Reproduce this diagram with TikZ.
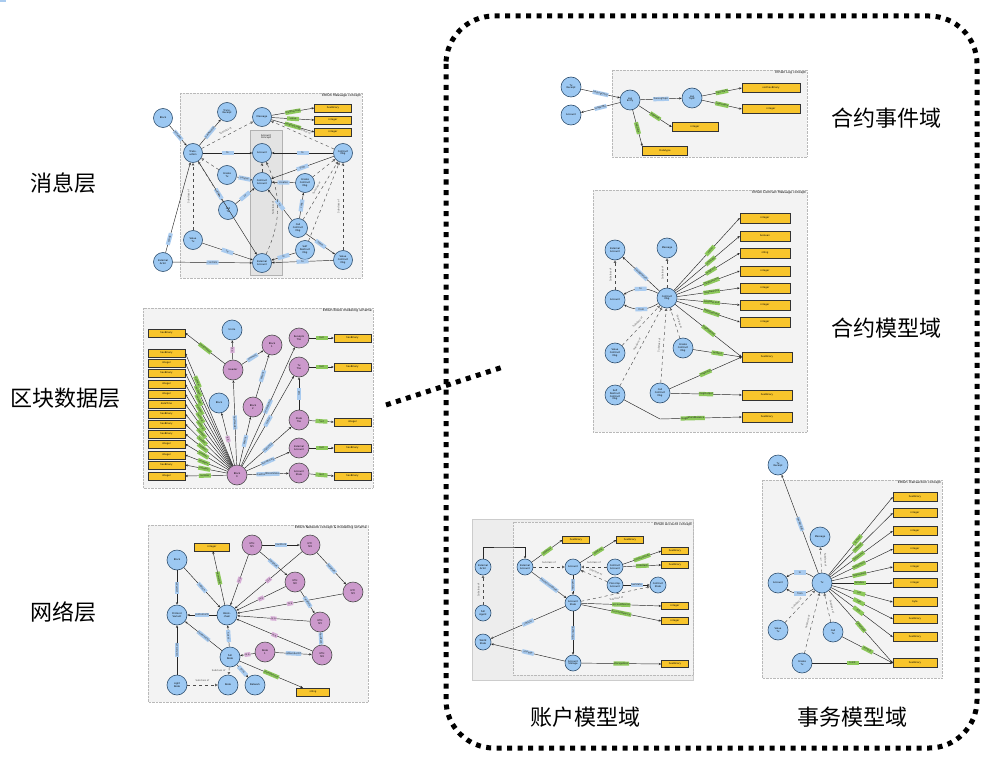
\documentclass[tikz,border=0pt]{standalone}
\usepackage{fontspec}
\newfontfamily\cjk{Noto Sans CJK SC}
\newfontfamily\tinyf{DejaVu Sans}
\usetikzlibrary{arrows.meta}
\definecolor{nblue}{HTML}{9CC8F2}
\definecolor{nblueb}{HTML}{2F4F6F}
\definecolor{npurp}{HTML}{CC99CC}
\definecolor{nyel}{HTML}{F8C52C}
\definecolor{lgreen}{HTML}{8CC85A}
\definecolor{lblue}{HTML}{A9CBEF}
\definecolor{frm}{HTML}{F3F3F3}
\begin{document}
\begin{tikzpicture}[x=1pt,y=-1pt,
  tx/.style={font=\tinyf\fontsize{2.4}{2.7}\selectfont, align=center},
  cn/.style={circle, draw=nblueb, line width=0.6pt, fill=nblue, minimum size=20pt, inner sep=0pt, tx},
  sn/.style={cn, minimum size=16pt},
  pn/.style={cn, fill=npurp, draw=black!70},
  yb/.style={draw=black!80, line width=0.5pt, fill=nyel, minimum width=37pt, minimum height=8pt, inner sep=0pt, tx},
  frame/.style={draw=gray!55, densely dotted, fill=frm},
  ttl/.style={anchor=north east, inner sep=1pt, font=\tinyf\fontsize{3.2}{3.6}\selectfont},
  ar/.style={-{Stealth[length=2.6pt,width=2.2pt]}, line width=0.45pt, black!85},
  sub/.style={-{Triangle[open,length=2.6pt,width=2.6pt]}, dashed, line width=0.45pt, black!70},
  gl/.style={fill=lgreen, inner sep=0.5pt, minimum height=4.2pt, minimum width=12pt, tx, sloped, pos=0.5},
  bl/.style={gl, fill=lblue},
  pl/.style={gl, fill=npurp!80, minimum width=6pt},
  big/.style={font=\cjk\fontsize{22}{26}\selectfont, inner sep=0pt},
  dotline/.style={line width=5pt, dash pattern=on 5pt off 5.5pt}
]
\useasboundingbox (0,0) rectangle (1008,778);

% ---------- big region and dotted link ----------
\draw[dotline, rounded corners=48pt] (446,16) rectangle (977,748);
\coordinate (ls) at (386,405);
\coordinate (le) at (503,367);
\draw[dotline] (ls) -- (le);

% ---------- labels ----------
\node[big] (l1) at (63,183) {消息层};
\node[big] (l2) at (65,398) {区块数据层};
\node[big] (l3) at (63,612) {网络层};
\node[big] (r1) at (886,118) {合约事件域};
\node[big] (r2) at (886,328) {合约模型域};
\node[big] (r3) at (585,717) {账户模型域};
\node[big] (r4) at (852,717) {事务模型域};

% ================= Message concept =================
\draw[frame] (180,93) rectangle (362,278);
\node[ttl] (m0) at (362,93) {EthOn Message concept};
\draw[draw=gray!60, fill=gray!22] (250,130) rectangle (282,275);
\node[tx] (mac) at (266,137) {Account\\Concept};
\foreach \n/\x/\y/\t in {m1/163/118/Block, m2/193/153/{Trans-\\action}, m3/227/112/{Trans.\\Receipt}, m4/262/117/Message, m5/262/153/Account, m6/343/153/{Contract\\Msg}, m7/227/175/{Create\\Tx}, m8/262/182/{Contract\\Account}, m9/305/183/{Create\\Contract\\Msg}, m10/228/210/{Call\\Tx}, m11/298/228/{Call\\Contract\\Msg}, m12/193/240/{Value\\Tx}, m13/305/250/{Self\\Destruct\\Msg}, m14/163/262/{External\\Actor}, m15/262/263/{External\\Account}, m16/343/260/{Value\\Contract\\Msg}}
  {\node[cn, minimum size=19pt] (\n) at (\x,\y) {\t};}
\foreach \n/\y/\t in {my1/108/hexBinary, my2/120/integer, my3/132/integer}
  {\node[yb] (\n) at (333,\y) {\t};}
\draw[ar] (m1) -- (m2) node[bl]{includes};
\draw[ar] (m2) -- (m3) node[bl]{hasReceipt};
\draw[ar] (m4) -- (my1.west) node[gl]{msgPayload};
\draw[ar] (m4) -- (my2.west) node[gl]{value};
\draw[ar] (m4) -- (my3.west) node[gl]{msgGasLimit};
\draw[sub] (m2) -- (m4) node[tx,sloped,above,pos=0.5]{Subclass of};
\draw[sub] (m6) -- (m4) node[tx,sloped,above,pos=0.5]{Subclass of};
\draw[ar] (m2) -- (m5) node[bl]{to};
\draw[ar] (m6) -- (m5) node[bl]{to};
\draw[ar] (m7) -- (m8) node[bl]{creates};
\draw[ar] (m9) -- (m8) node[bl]{creates};
\draw[ar] (m10) -- (m8) node[bl]{to};
\draw[ar] (m6) -- (m8) node[bl]{from};
\draw[ar] (m11) -- (m9) node[bl]{calls};
\draw[ar] (m11) -- (m8) node[bl]{to};
\draw[ar] (m11) -- (m16) node[bl]{value};
\draw[ar] (m2) -- (m15) node[bl,pos=0.35]{from};
\draw[ar] (m12) -- (m15) node[bl]{to};
\draw[ar] (m14) -- (m15) node[bl]{controls};
\draw[ar] (m14) -- (m2) node[bl,pos=0.15]{sends};
\draw[ar] (m13) -- (m15) node[bl]{to};
\draw[ar] (m16) -- (m15) node[bl]{to};
\draw[sub] (m7) -- (m2);
\draw[sub] (m10) -- (m2);
\draw[sub] (m12) -- (m2) node[tx,sloped,above,pos=0.5]{Subclass of};
\draw[sub] (m9) -- (m6);
\draw[sub] (m11) -- (m6) node[tx,sloped,above,pos=0.5]{Subclass of};
\draw[sub] (m16) -- (m6) node[tx,sloped,above,pos=0.5]{Subclass of};
\draw[sub] (m13) -- (m6);
\draw[sub] (m8) -- (m5);
\draw[sub] (m15) to[bend right=25] node[tx,sloped,above,pos=0.5]{Subclass of} (m5);

% ================= Block modeling scheme =================
\draw[frame] (143,308) rectangle (373,488);
\node[ttl] (b00) at (373,308) {EthOn Block modeling scheme};
\foreach \y/\t [count=\i] in {333/hexBinary,353/hexBinary,363/integer,373/hexBinary,384/integer,394/integer,404/dateTime,414/hexBinary,424/hexBinary,434/hexBinary,444/integer,455/integer,465/hexBinary,476/integer}
  {\node[yb] (bk\i) at (166.5,\y) {\t};}
\foreach \n/\x/\y/\t/\s in {b1/232/330/Uncle/cn, b2/233/370/Header/pn, b3/272/345/{Block\\1}/pn, b4/219/403/Block/cn, b5/253/407/{Block\\2}/pn, b6/299/338/{Receipts\\Trie}/pn, b7/299/367/{Tx\\Trie}/pn, b8/299/420/{State\\Trie}/pn, b9/299/448/{External\\Account}/pn, b10/299/473/{Account\\State}/pn, b0/237/475/{Block\\0}/pn}
  {\node[\s, minimum size=20pt] (\n) at (\x,\y) {\t};}
\foreach \y/\t [count=\i] in {338/hexBinary,367/hexBinary,422/integer,448/hexBinary,476/hexBinary}
  {\node[yb] (br\i) at (352.5,\y) {\t};}
\foreach \i in {2,...,14}
  {\pgfmathsetmacro\pp{0.78-0.018*\i}
   \draw[ar] (b0) -- (bk\i.east) node[gl,pos=\pp]{number};}
\draw[ar] (b2) -- (bk1.east) node[gl]{parentHash};
\draw[ar] (b0) -- (b2) node[bl]{hasHeader};
\draw[ar] (b0) -- (b4) node[pl]{is a};
\draw[ar] (b0) -- (b5) node[bl]{parent};
\draw[ar] (b0) -- (b6) node[bl]{receiptsTrie};
\draw[ar] (b0) -- (b7) node[bl]{txTrie};
\draw[ar] (b0) -- (b8) node[bl]{stateTrie};
\draw[ar] (b0) -- (b9) node[bl]{beneficiary};
\draw[ar] (b0) -- (b10) node[bl]{hasPostBlockState};
\draw[ar] (b2) -- (b1) node[pl]{is a};
\draw[ar] (b2) -- (b3) node[bl]{ommers};
\draw[ar] (b5) -- (b3) node[bl]{parent};
\draw[ar] (b8) -- (b7) node[bl]{root};
\foreach \a/\b in {b6/br1,b7/br2,b8/br3,b9/br4,b10/br5}
  {\draw[ar] (\a) -- (\b.west) node[gl]{root};}

% ================= Network concept =================
\draw[frame] (148,525) rectangle (368,702);
\node[ttl] (n00) at (368,525) {EthOn Network concept \& modelling scheme};
\foreach \n/\x/\y/\t/\s in {n1/177/560/Block/cn, n2/227/615/{Block-\\chain}/cn, n3/252/545/{ETH\\hf1}/pn, n4/310/545/{ETC\\hf4}/pn, n5/295/582/{ETH\\hf2}/pn, n6/353/592/{ETC\\hf3}/pn, n7/320/622/{ETH\\hf3}/pn, n8/322/655/{ETH\\hf4}/pn, n9/265/652/{Node\\1}/pn, n10/177/615/{Protocol\\Variant}/cn, n11/230/657/{Full\\Node}/cn, n12/177/685/{Light\\Node}/cn, n13/228/685/Node/cn, n14/255/685/Network/cn}
  {\node[\s, minimum size=20pt] (\n) at (\x,\y) {\t};}
\node[yb, minimum width=35pt] (ny1) at (212,547) {integer};
\node[yb, minimum width=33pt] (ny2) at (313,692) {string};
\draw[ar] (n1) -- (n2) node[bl]{inBlock};
\draw[ar] (n1) -- (n10) node[bl]{isPartOf};
\draw[ar] (n2) -- (n10) node[bl]{conformsTo};
\draw[ar] (n2) -- (ny1) node[gl]{networkId};
\foreach \p in {n3,n4,n5,n6,n7,n8}
  {\draw[ar] (\p) -- (n2) node[pl]{is a};}
\draw[ar] (n3) -- (n4) node[bl]{hardFork};
\draw[ar] (n3) -- (n5) node[bl]{hardFork};
\draw[ar] (n4) -- (n6) node[bl]{hardFork};
\draw[ar] (n5) -- (n7) node[bl]{hardFork};
\draw[ar] (n7) -- (n8) node[bl]{hardFork};
\draw[ar] (n9) -- (n8) node[bl]{isMemberOf};
\draw[ar] (n9) -- (n11) node[pl]{is a};
\draw[ar] (n11) -- (n2) node[bl]{hosts};
\draw[ar] (n11) -- (n10) node[bl]{conformsTo};
\draw[ar] (n12) -- (n10) node[bl]{conformsTo};
\draw[ar] (n11) -- (n14) node[bl]{joins};
\draw[ar] (n11) -- (ny2) node[gl]{clientVersion};
\draw[sub] (n12) -- (n13) node[tx,above,pos=0.5]{Subclass of};
\draw[sub] (n11) -- (n13) node[tx,left,pos=0.5]{Subclass of};

% ================= Log concept =================
\draw[frame] (612,70) rectangle (807,157);
\node[ttl] (g00) at (807,70) {EthOn Log concept};
\foreach \n/\x/\y/\t in {g1/571/87/{Tx\\Receipt}, g2/571/115/Account, g3/630/100/{Log\\Entry}, g4/692/98/{Log\\Topic}}
  {\node[cn] (\n) at (\x,\y) {\t};}
\node[yb, minimum width=58pt, minimum height=9pt] (gy1) at (771,88) {xsd:hexBinary};
\node[yb, minimum width=58pt, minimum height=9pt] (gy2) at (771,109) {integer};
\node[yb, minimum width=46pt, minimum height=9pt] (gy3) at (695,127) {integer};
\node[yb, minimum width=45pt, minimum height=9pt] (gy4) at (665,151) {Datatype};
\draw[ar] (g1) -- (g3) node[bl]{hasLogEntry};
\draw[ar] (g3) -- (g2) node[bl]{loggedBy};
\draw[ar] (g3) -- (g4) node[bl]{hasLogTopic};
\draw[ar] (g4) -- (gy1.west) node[gl]{topicData};
\draw[ar] (g4) -- (gy2.west) node[gl]{topicIndex};
\draw[ar] (g3) -- (gy3.west) node[gl]{logIndex};
\draw[ar] (g3) -- (gy4.north west) node[gl]{logData};

% ================= Contract Message concept =================
\draw[frame] (593,190) rectangle (807,432);
\node[ttl] (c00) at (807,190) {EthOn Contract Message concept};
\foreach \n/\x/\y/\t in {c1/615/250/{External\\Account}, c2/667/248/Message, c3/615/300/Account, c4/667/298/{Contract\\Msg}, c5/615/353/{Value\\Contract\\Msg}, c6/683/348/{Create\\Contract\\Msg}, c7/615/395/{Self\\Destruct\\Contract\\Msg}, c8/660/393/{Call\\Contract\\Msg}}
  {\node[cn] (\n) at (\x,\y) {\t};}
\foreach \y/\t/\l [count=\i] in {218/integer/value, 236/boolean/isSuicide, 253/string/msgError, 271/integer/msgGasLimit, 288/integer/msgGasPrice, 305/integer/msgGasLimit, 322/integer/msgGasUsed}
  {\node[yb, minimum width=50pt, minimum height=10pt] (cy\i) at (765,\y) {\t};
   \draw[ar] (c4) -- (cy\i.west) node[gl,pos=0.55]{\l};}
\node[yb, minimum width=50pt, minimum height=10pt] (cy8) at (767,357) {hexBinary};
\node[yb, minimum width=50pt, minimum height=10pt] (cy9) at (767,395) {hexBinary};
\node[yb, minimum width=50pt, minimum height=10pt] (cy10) at (767,417) {hexBinary};
\draw[ar] (c4) -- (cy8.west) node[gl]{msgPayload};
\draw[ar] (c6) -- (cy8.west) node[gl]{msgInit};
\draw[ar] (c8) -- (cy8.west) node[gl]{msgInput};
\draw[ar] (c8) -- (cy9.west) node[gl]{msgOutput};
\coordinate (cb) at (660,419);
\draw[ar] (c7) -- (cb) -- (cy10.west) node[gl,pos=0.4]{msgRefundBalance};
\draw[ar] (c4) -- (c1) node[bl]{hasSignature};
\draw[ar] (c4) to[bend right=30] node[bl]{to} (c3);
\draw[ar] (c4) to[bend left=30] node[bl]{from} (c3);
\draw[sub] (c3) -- (c1) node[tx,sloped,above,pos=0.5]{Subclass of};
\draw[sub] (c4) -- (c2) node[tx,sloped,above,pos=0.5]{Subclass of};
\draw[sub] (c5) -- (c4) node[tx,sloped,above,pos=0.5]{Subclass of};
\draw[sub] (c7) -- (c4) node[tx,sloped,above,pos=0.5]{Subclass of};
\draw[sub] (c8) -- (c4) node[tx,sloped,above,pos=0.5]{Subclass of};
\draw[sub] (c6) -- (c4) node[tx,sloped,above,pos=0.5]{Subclass of};

% ================= Account concept =================
\draw[draw=gray!40, fill=gray!14] (472,519) rectangle (693,680);
\draw[frame] (513,522) rectangle (693,675);
\node[ttl] (a00) at (693,522) {EthOn Account concept};
\foreach \n/\x/\y/\t in {a1/483/567/{External\\Actor}, a2/483/613/{Full\\Agent}, a3/483/642/{World\\State}, a4/525/567/{External\\Account}, a5/573/567/Account, a6/615/567/{Contract\\Account}, a7/615/585/{Precomp.\\Account}, a8/658/585/{Contract\\State}, a9/573/603/{Account\\State}, a10/573/663/{Account\\Storage}}
  {\node[sn] (\n) at (\x,\y) {\t};}
\foreach \n/\x/\y/\t in {ay1/576/540/hexBinary, ay2/630/540/hexBinary, ay3/675/551/hexBinary, ay4/675/565/hexBinary, ay5/675/606/integer, ay6/675/621/integer, ay7/675/664/hexBinary}
  {\node[yb, minimum width=27pt, minimum height=7pt] (\n) at (\x,\y) {\t};}
\coordinate (ac) at (504,547);
\draw[ar] (a1.north) |- (ac) -| (a4.north);
\node[bl, sloped=false] (acl) at (504,544) {controls};
\draw[sub] (a2) -- (a1) node[tx,sloped,above,pos=0.5]{Subclass of};
\draw[ar] (a4) -- (ay1.west) node[gl]{address};
\draw[ar] (a5) -- (ay2.west) node[gl]{address};
\draw[ar] (a6) -- (ay3.west) node[gl]{contractCode};
\draw[ar] (a6) -- (ay4.west) node[gl]{codeHash};
\draw[sub] (a4) -- (a5) node[tx,above,pos=0.5]{Subclass of};
\draw[sub] (a6) -- (a5) node[tx,above,pos=0.5]{Subclass of};
\draw[sub] (a7) -- (a5) node[tx,sloped,above,pos=0.5]{Subclass of};
\draw[ar] (a7) -- (a8) node[bl]{hasState};
\draw[ar] (a5) -- (a9) node[bl]{hasState};
\draw[ar] (a4) -- (a9) node[bl]{hasAccountState};
\draw[sub] (a9) -- (a8) node[tx,sloped,below,pos=0.5]{Subclass of};
\draw[ar] (a9) -- (ay5.west) node[gl]{accountNonce};
\draw[ar] (a9) -- (ay6.west) node[gl]{accountBalance};
\draw[ar] (a9) -- (a3) node[bl]{inState};
\draw[ar] (a9) -- (a10) node[bl]{hasStorage};
\draw[ar] (a10) -- (a3) node[bl]{storage};
\draw[ar] (a10) -- (ay7.west) node[gl]{storageRoot};

% ================= Transaction concept =================
\draw[frame] (762,480) rectangle (942,678);
\node[ttl] (t00) at (942,480) {EthOn Transaction concept};
\foreach \n/\x/\y/\t in {t1/778/465/{Tx\\Receipt}, t2/820/537/Message, t3/778/583/Account, t4/822/583/Tx, t5/778/630/{Value\\Tx}, t6/833/632/{Call\\Tx}, t7/802/663/{Create\\Tx}}
  {\node[cn] (\n) at (\x,\y) {\t};}
\foreach \y/\t/\l [count=\i] in {497/hexBinary/txHash, 513/integer/txNonce, 531/integer/txGasLimit, 549/integer/txGasPrice, 567/integer/txGasUsed, 583/integer/txIndex, 602/byte/txV, 619/hexBinary/txR, 637/hexBinary/txS}
  {\node[yb, minimum width=44pt, minimum height=9pt] (ty\i) at (915,\y) {\t};
   \draw[ar] (t4) -- (ty\i.west) node[gl,pos=0.45]{\l};}
\node[yb, minimum width=44pt, minimum height=9pt] (ty10) at (915,663) {hexBinary};
\draw[ar] (t4) -- (ty10.west) node[gl]{txPayload};
\draw[ar] (t6) -- (ty10.west) node[gl]{txInput};
\draw[ar] (t7) -- (ty10.west) node[gl]{txInit};
\draw[ar] (t4) -- (t1) node[bl]{hasReceipt};
\draw[sub] (t4) -- (t2) node[tx,sloped,above,pos=0.5]{Subclass of};
\draw[ar] (t4) to[bend right=35] node[bl]{to} (t3);
\draw[ar] (t4) to[bend left=35] node[bl]{from} (t3);
\draw[sub] (t5) -- (t4) node[tx,sloped,above,pos=0.5]{Subclass of};
\draw[sub] (t6) -- (t4) node[tx,sloped,above,pos=0.5]{Subclass of};
\draw[sub] (t7) -- (t4) node[tx,sloped,above,pos=0.5]{Subclass of};
\end{tikzpicture}
\end{document}
